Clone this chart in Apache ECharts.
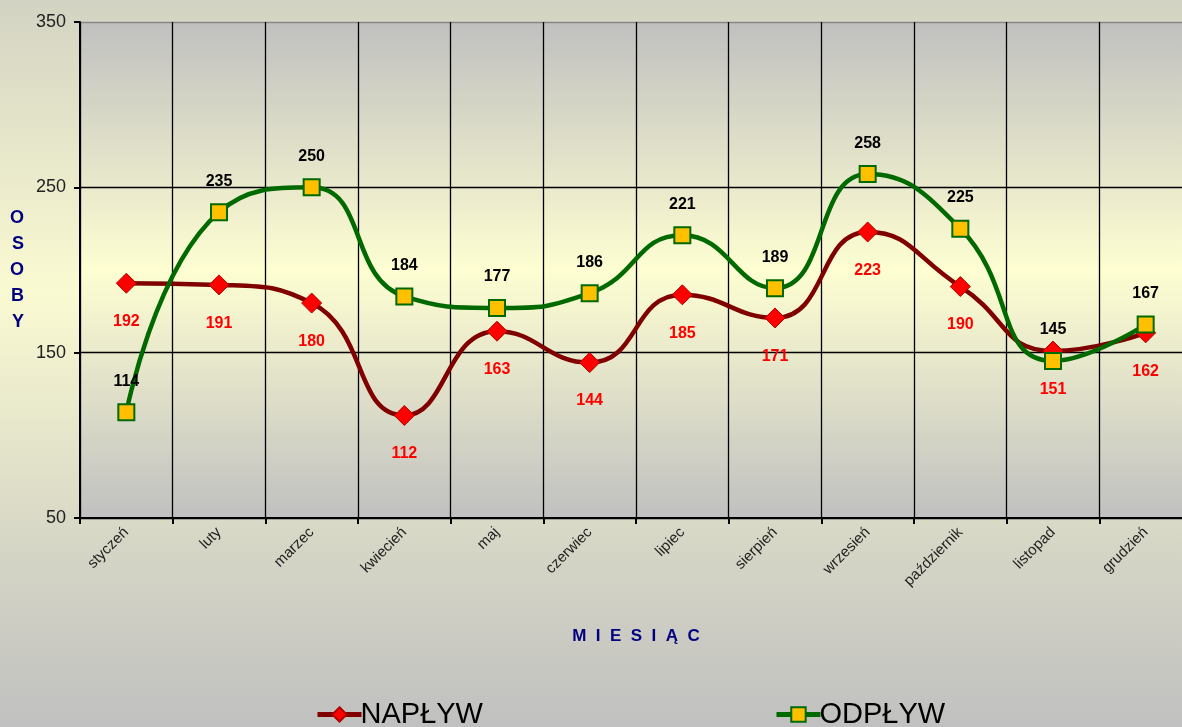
<!DOCTYPE html>
<html>
<head>
<meta charset="utf-8">
<script src="https://cdn.jsdelivr.net/npm/echarts@6/dist/echarts.min.js"></script>
<style>
  html, body { margin: 0; padding: 0; }
  #chart { width: 1182px; height: 727px; }
</style>
</head>
<body>
<div id="chart"></div>
<script>
// dane
const months = ['styczeń', 'luty', 'marzec', 'kwiecień', 'maj', 'czerwiec', 'lipiec', 'sierpień', 'wrzesień', 'październik', 'listopad', 'grudzień']
const naplyw = [192, 191, 180, 112, 163, 144, 185, 171, 223, 190, 151, 162]
const odplyw = [114, 235, 250, 184, 177, 186, 221, 189, 258, 225, 145, 167]
const yTicks = [50, 150, 250, 350]

const chart = echarts.init(document.getElementById('chart'))
const font = '"Liberation Sans", Arial, sans-serif'

const option = {
  animation: false,
  backgroundColor: new echarts.graphic.LinearGradient(0, 0, 0, 1, [
    { offset: 0, color: '#d3d3c3' },
    { offset: 0.4, color: '#fafad2' },
    { offset: 0.75, color: '#d6d6c6' },
    { offset: 1, color: '#c0c0c0' }
  ]),
  grid: {
    left: 80,
    top: 22,
    right: -10,
    bottom: 209,
    outerBoundsMode: 'none',
    show: true,
    borderWidth: 0,
    backgroundColor: new echarts.graphic.LinearGradient(0, 0, 0, 1, [
      { offset: 0, color: '#c0c0c0' },
      { offset: 0.5, color: '#fefed2' },
      { offset: 1, color: '#c0c0c0' }
    ])
  },
  legend: {
    bottom: -7,
    left: 310,
    itemGap: 291,
    itemWidth: 44,
    itemHeight: 18,
    lineStyle: { width: 5 },
    textStyle: { fontFamily: '"Liberation Sans Narrow", ' + font, fontSize: 29, color: '#000', padding: [0, 0, 0, -6] },
    data: ['NAPŁYW', 'ODPŁYW']
  },
  xAxis: {
    type: 'category',
    data: months,
    boundaryGap: true,
    name: 'M  I  E  S  I  Ą  C',
    nameLocation: 'middle',
    nameGap: 110,
    nameTextStyle: { fontFamily: font, fontSize: 17, fontWeight: 'bold', color: '#000080' },
    axisLine: { lineStyle: { color: '#000', width: 2 } },
    axisTick: { show: true, length: 6, lineStyle: { color: '#000', width: 2 } },
    axisLabel: { rotate: 45, fontFamily: font, fontSize: 15, color: '#222', margin: 12, interval: 0 },
    splitLine: { show: true, lineStyle: { color: '#000', width: 1.3 } }
  },
  yAxis: {
    type: 'value',
    min: 50,
    max: 350,
    name: 'O\nS\nO\nB\nY',
    nameLocation: 'middle',
    nameRotate: 0,
    nameGap: 56,
    nameTextStyle: { fontFamily: font, fontSize: 18, fontWeight: 'bold', color: '#000080', lineHeight: 26 },
    axisLine: { show: true, lineStyle: { color: '#000', width: 2 } },
    axisTick: { show: true, length: 6, customValues: yTicks, lineStyle: { color: '#000', width: 2 } },
    axisLabel: { customValues: yTicks, fontFamily: font, fontSize: 18, color: '#222', margin: 14 },
    splitLine: { show: true, lineStyle: { color: ['#000', '#000', '#000', '#888'], width: 1.3 } }
  },
  series: [
    {
      name: 'NAPŁYW',
      type: 'line',
      data: naplyw,
      smooth: 0.5,
      symbol: 'diamond',
      symbolSize: 20,
      z: 3,
      lineStyle: { color: '#800000', width: 4.5 },
      itemStyle: { color: '#ff0000', borderColor: '#b00000', borderWidth: 1 },
      label: { show: true, position: 'bottom', distance: 20, fontFamily: font, fontSize: 16, fontWeight: 'bold', color: '#ff0000' }
    },
    {
      name: 'ODPŁYW',
      type: 'line',
      data: odplyw,
      smooth: 0.5,
      symbol: 'rect',
      symbolSize: 16,
      z: 4,
      lineStyle: { color: '#006a00', width: 4.5 },
      itemStyle: { color: '#ffc000', borderColor: '#006a00', borderWidth: 2 },
      label: { show: true, position: 'top', distance: 14, fontFamily: font, fontSize: 16, fontWeight: 'bold', color: '#000' }
    }
  ]
}

chart.setOption(option)
</script>
</body>
</html>
